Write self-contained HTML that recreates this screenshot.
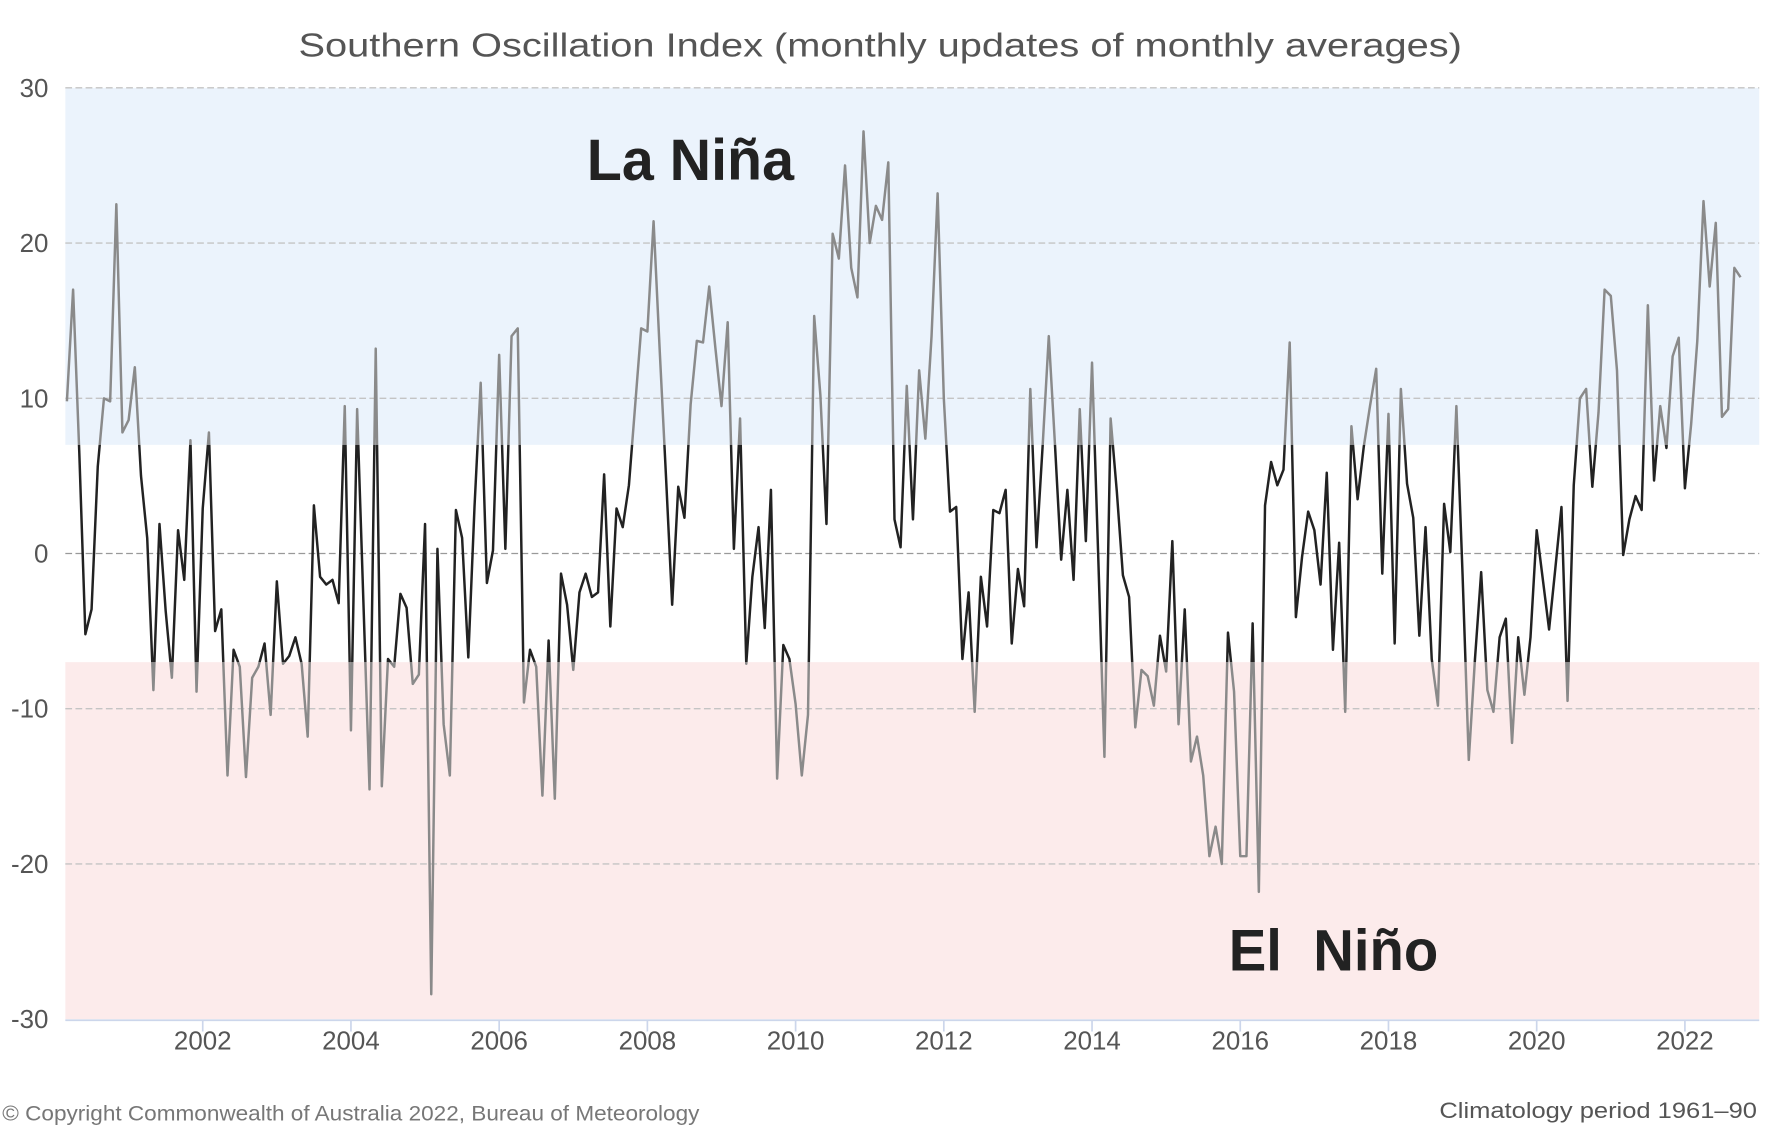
<!DOCTYPE html>
<html><head><meta charset="utf-8"><style>
html,body{margin:0;padding:0;background:#fff;}
svg{display:block;}
text{font-family:"Liberation Sans","DejaVu Sans",sans-serif;}
</style></head>
<body>
<svg id="chart" width="1766" height="1125" viewBox="0 0 1568 999" preserveAspectRatio="none" xmlns="http://www.w3.org/2000/svg">
<text x="265" y="50" textLength="1033" lengthAdjust="spacingAndGlyphs" font-size="30" fill="#555">Southern Oscillation Index (monthly updates of monthly averages)</text>
<g id="bands"></g>
<g id="grid"></g>
<text x="521" y="160" textLength="184" lengthAdjust="spacingAndGlyphs" font-size="52" font-weight="bold" fill="#222">La Niña</text>
<text x="1091" y="862" textLength="186" lengthAdjust="spacingAndGlyphs" font-size="52" font-weight="bold" fill="#222" xml:space="preserve">El  Niño</text>
<g id="series"></g>
<g id="xaxis"></g>
<text x="2" y="995" textLength="619" lengthAdjust="spacingAndGlyphs" font-size="19" fill="#777">© Copyright Commonwealth of Australia 2022, Bureau of Meteorology</text>
<text x="1278" y="993" textLength="282" lengthAdjust="spacingAndGlyphs" font-size="20" fill="#555">Climatology period 1961–90</text>
</svg>
<script>
const startYear = 2000.167;
const soiValues = [9.8,17,6.5,-5.2,-3.6,5.6,10,9.8,22.5,7.8,8.6,12,5,1,-8.8,1.9,-3.7,-8,1.5,-1.7,7.3,-8.9,2.9,7.8,-5,-3.6,-14.3,-6.2,-7.3,-14.4,-8,-7.3,-5.8,-10.4,-1.8,-7.1,-6.6,-5.4,-7.1,-11.8,3.1,-1.5,-2,-1.7,-3.2,9.5,-11.4,9.3,
-3,-15.2,13.2,-15,-6.8,-7.3,-2.6,-3.5,-8.4,-7.8,1.9,-28.4,0.3,-11,-14.3,2.8,1,-6.7,3,11,-1.9,0.2,12.8,0.3,14,14.5,-9.6,-6.2,-7.3,-15.6,-5.6,-15.8,-1.3,-3.3,-7.5,-2.5,-1.3,-2.8,-2.5,5.1,-4.7,2.9,1.7,4.4,9.5,14.5,14.3,
21.4,13,5,-3.3,4.3,2.3,9.6,13.7,13.6,17.2,13.3,9.5,14.9,0.3,8.7,-7.1,-1.5,1.7,-4.8,4.1,-14.5,-5.9,-6.8,-9.7,-14.3,-10.4,15.3,10.2,1.9,20.6,19,25,18.4,16.5,27.2,20,22.4,21.5,25.2,2.2,0.4,10.8,2.2,11.8,7.4,14,
23.2,10,2.7,3,-6.8,-2.5,-10.2,-1.5,-4.7,2.8,2.6,4.1,-5.8,-1,-3.4,10.6,0.4,7,14,7,-0.4,4.1,-1.7,9.3,0.8,12.3,-0.2,-13.1,8.7,4,-1.4,-2.8,-11.2,-7.5,-7.9,-9.8,-5.3,-7.6,0.8,-11,-3.6,-13.4,-11.8,-14.3,-19.5,-17.6,-20,
-5.1,-8.9,-19.5,-19.5,-4.5,-21.8,3.1,5.9,4.4,5.4,13.6,-4.1,-0.2,2.7,1.5,-2,5.2,-6.2,0.7,-10.2,8.2,3.5,6.9,9.5,11.9,-1.3,9,-5.8,10.6,4.5,2.3,-5.3,1.7,-6.8,-9.8,3.2,0.1,9.5,-1.4,-13.3,
-6.8,-1.2,-8.8,-10.2,-5.4,-4.2,-12.2,-5.4,-9.1,-5.4,1.5,-1.7,-4.9,-1,3,-9.5,4.4,10,10.6,4.3,9.1,17,16.6,11.8,-0.1,2.2,3.7,2.8,16,4.7,9.5,6.8,12.7,13.9,4.2,8.3,13.7,22.7,17.2,21.3,8.8,9.3,18.4,17.8];
const yTicks = [30,20,10,0,-10,-20,-30];
const xTicks = [2002,2004,2006,2008,2010,2012,2014,2016,2018,2020,2022];
const bandLimits = [7,-7];

const NS="http://www.w3.org/2000/svg";
const L=58,R=1562;
function yS(v){return 491.5-(v*137.83/10);}
function xS(yr){return 180+(yr-2002)*65.8;}
function mk(tag,attrs,parent){const e=document.createElementNS(NS,tag);for(const k in attrs)e.setAttribute(k,attrs[k]);parent.appendChild(e);return e;}

const bands=document.getElementById('bands');
let b1=mk('rect',{x:L,y:yS(30),width:R-L,height:yS(bandLimits[0])-yS(30),fill:'#ebf3fc'},bands);


let b2=mk('rect',{x:L,y:yS(bandLimits[1]),width:R-L,height:yS(-30)-yS(bandLimits[1]),fill:'#fcebeb'},bands);



const grid=document.getElementById('grid');
yTicks.forEach(v=>{
  if(v!==-30){
    let g=mk('line',{x1:L,x2:R,y1:yS(v),y2:yS(v),stroke:v===0?'#999':'#c4c4c4','stroke-width':1.2,'stroke-dasharray':'6,3'},grid);
    
    
  }
  let t=mk('text',{x:43,y:yS(v)+8,'text-anchor':'end','font-size':23,fill:'#555'},grid);
  t.textContent=v;
  
  
});

const clip=mk('defs',{},document.getElementById('chart'));
const cp1=mk('clipPath',{id:'outer'},clip);
mk('rect',{x:0,y:0,width:1568,height:yS(bandLimits[0])},cp1);
mk('rect',{x:0,y:yS(bandLimits[1]),width:1568,height:999},cp1);
const cp2=mk('clipPath',{id:'inner'},clip);
mk('rect',{x:0,y:yS(bandLimits[0]),width:1568,height:yS(bandLimits[1])-yS(bandLimits[0])},cp2);

const pts=soiValues.map((v,i)=>xS(startYear+i/12).toFixed(1)+','+yS(v).toFixed(1)).join(' ');
const ser=document.getElementById('series');
let p1=mk('polyline',{points:pts,fill:'none',stroke:'#8a8a8a','stroke-width':2.2,'stroke-linejoin':'round','clip-path':'url(#outer)'},ser);


let p2=mk('polyline',{points:pts,fill:'none',stroke:'#222','stroke-width':2.2,'stroke-linejoin':'round','clip-path':'url(#inner)'},ser);



const xa=document.getElementById('xaxis');
let ax=mk('line',{x1:L,x2:R,y1:906,y2:906,stroke:'#ccd6eb','stroke-width':1.5},xa);


xTicks.forEach(yr=>{
  let tk=mk('line',{x1:xS(yr),x2:xS(yr),y1:906,y2:916,stroke:'#ccd6eb','stroke-width':1.5},xa);
  
  
  let t=mk('text',{x:xS(yr),y:932,'text-anchor':'middle','font-size':23,fill:'#555'},xa);
  t.textContent=yr;
  
  
});
</script>
</body></html>
